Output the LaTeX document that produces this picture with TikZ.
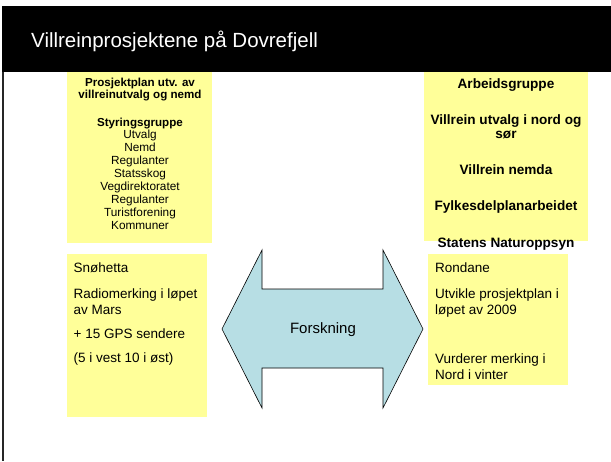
\documentclass[tikz,border=0pt]{standalone}
\usepackage{fontspec}
\setmainfont{Liberation Sans}
\definecolor{ylw}{RGB}{255,255,153}
\definecolor{arrowblue}{RGB}{183,222,228}
\begin{document}
\begin{tikzpicture}[x=1pt,y=-1pt,
  ybox/.style={fill=ylw, draw=none, inner sep=0pt, anchor=north west},
  tlb/.style={anchor=base, inner sep=0pt, font=\bfseries\fontsize{11.6}{12}\selectfont},
  tlr/.style={anchor=base, inner sep=0pt, font=\fontsize{11.8}{13}\selectfont},
  trb/.style={anchor=base, inner sep=0pt, font=\bfseries\fontsize{13.6}{15}\selectfont},
  btxt/.style={anchor=base west, inner sep=0pt, font=\fontsize{13.5}{16}\selectfont}]
\useasboundingbox (0,0) rectangle (611,461);
\fill[white] (0,0) rectangle (611,461);
% title bar
\fill[black] (2,6) rectangle (611,72);
\draw[black!85, line width=1.6pt] (3,72) -- (3,461);
\node[anchor=base west, inner sep=0pt, text=white, font=\fontsize{20.5}{24}\selectfont] (title) at (31,47) {Villreinprosjektene på Dovrefjell};
% yellow boxes
\node[ybox, minimum width=145pt, minimum height=171pt] (tl) at (67,72) {};
\node[ybox, minimum width=164pt, minimum height=169pt] (tr) at (424,72) {};
\node[ybox, minimum width=140pt, minimum height=163pt] (bl) at (67,254) {};
\node[ybox, minimum width=140pt, minimum height=131pt] (br) at (428,254) {};
% top-left texts
\node[anchor=north, inner sep=0pt, align=center, font=\bfseries\fontsize{11.6}{10}\selectfont] (tl1) at (140,78) {Prosjektplan utv. av\\villreinutvalg og nemd};
\node[tlb] (tl3) at (140,126) {Styringsgruppe};
\node[tlr] (tl4) at (140,138) {Utvalg};
\node[tlr] (tl5) at (140,151) {Nemd};
\node[tlr] (tl6) at (140,164) {Regulanter};
\node[tlr] (tl7) at (140,177) {Statsskog};
\node[tlr] (tl8) at (140,190) {Vegdirektoratet};
\node[tlr] (tl9) at (140,203) {Regulanter};
\node[tlr] (tl10) at (140,216) {Turistforening};
\node[tlr] (tl11) at (140,229) {Kommuner};
% top-right texts
\node[trb] (tr1) at (506,88) {Arbeidsgruppe};
\node[trb] (tr2) at (506,124) {Villrein utvalg i nord og};
\node[trb] (tr3) at (506,138) {sør};
\node[trb] (tr4) at (506,174) {Villrein nemda};
\node[trb] (tr5) at (506,210) {Fylkesdelplanarbeidet};
\node[trb] (tr6) at (506,247) {Statens Naturoppsyn};
% bottom-left texts
\node[btxt] (bl1) at (73.5,272) {Snøhetta};
\node[btxt] (bl2) at (73.5,298) {Radiomerking i løpet};
\node[btxt] (bl3) at (73.5,314.5) {av Mars};
\node[btxt] (bl4) at (73.5,338) {+ 15 GPS sendere};
\node[btxt] (bl5) at (73.5,362.5) {(5 i vest 10 i øst)};
% bottom-right texts
\node[btxt] (br1) at (435,272) {Rondane};
\node[btxt] (br2) at (435,298) {Utvikle prosjektplan i};
\node[btxt] (br3) at (435,314.5) {løpet av 2009};
\node[btxt] (br4) at (435,363) {Vurderer merking i};
\node[btxt] (br5) at (435,379) {Nord i vinter};
% double arrow
\draw[fill=arrowblue, draw=black, line width=0.6pt, line join=miter]
  (222,329) -- (262,250) -- (262,289) -- (383,289) -- (383,250) -- (423,329)
  -- (383,408) -- (383,368) -- (262,368) -- (262,408) -- cycle;
\node[inner sep=0pt, font=\fontsize{15}{18}\selectfont] (forsk) at (323,330) {Forskning};
\end{tikzpicture}
\end{document}
